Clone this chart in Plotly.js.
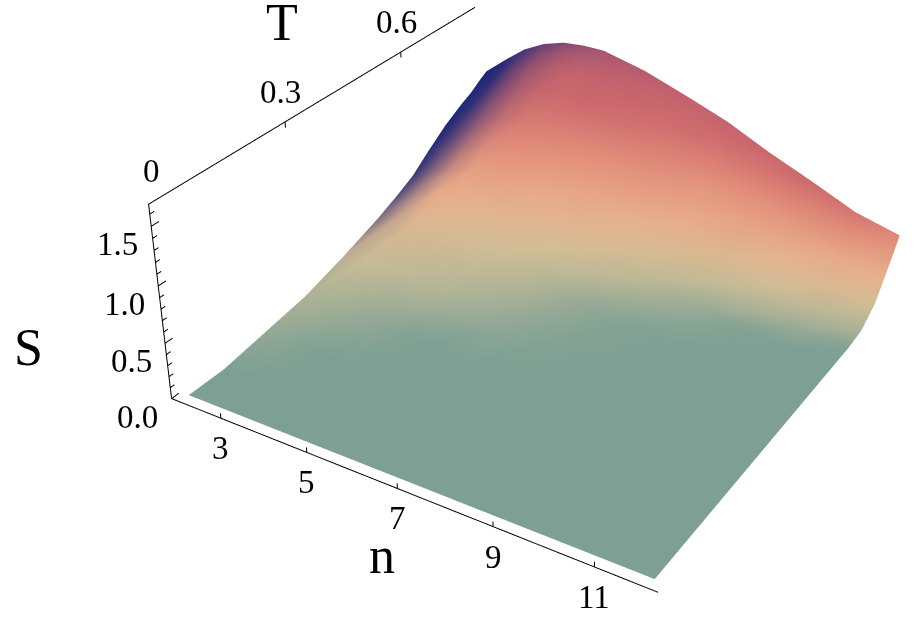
<!DOCTYPE html><html><head><meta charset="utf-8"><script src="https://cdn.plot.ly/plotly-3.0.1.min.js"></script>
<style>html,body{margin:0;padding:0;background:#fff;overflow:hidden;width:919px;height:621px}#p{position:absolute;left:0;top:-491px;width:1106px;height:1495px}</style></head><body><div id="p"></div>
<script>
// values
const nGrid=[2,2.5,3,3.5,4,4.5,5,6,7,8,9,10,11,12];
const tGrid=[.02,.1,.2,.3,.4,.5,.55,.6,.65,.7,.75,.78,.81,.83];
const sGrid=[
[0,0,0,0,0,0,0,0,0,0,0,0,0,0],
[0,0,0,0,0,0,0,0,0,0,0,0,0,0],
[.06,.06,.05,.04,.03,.02,.01,0,0,0,0,0,0,0],
[.12,.13,.13,.12,.11,.09,.07,.03,.01,0,0,0,0,0],
[.23,.26,.27,.27,.26,.23,.20,.12,.06,.02,.01,0,0,0],
[.36,.42,.46,.48,.48,.45,.41,.30,.18,.10,.04,.01,0,0],
[.44,.52,.58,.61,.62,.59,.55,.43,.29,.17,.08,.03,0,0],
[.53,.63,.71,.75,.76,.74,.70,.57,.42,.26,.13,.05,.01,0],
[.67,.77,.84,.89,.91,.90,.87,.73,.58,.38,.22,.09,.03,0],
[.80,.91,.99,1.05,1.08,1.07,1.04,.92,.75,.54,.34,.18,.07,.02],
[.90,1.03,1.15,1.23,1.27,1.27,1.24,1.12,.97,.77,.55,.35,.19,.14],
[.95,1.10,1.24,1.33,1.38,1.38,1.37,1.27,1.12,.93,.72,.53,.35,.30],
[1.02,1.17,1.32,1.42,1.48,1.49,1.48,1.39,1.25,1.09,.89,.72,.53,.46],
[1.06,1.22,1.37,1.47,1.53,1.55,1.55,1.46,1.33,1.19,1.01,.85,.68,.58]];
// colour position of each grid point along the green-tan-peach-rose ramp
const cGrid=[
[0,0,0,0,0,0,0,0,0,0,0,0,0,0],
[0,0,0,0,0,0,0,0,0,0,0,0,0,0],
[.11,.07,.02,0,0,0,0,0,0,0,0,0,0,0],
[.24,.21,.17,.12,.08,.02,0,0,0,0,0,0,0,0],
[.38,.36,.34,.32,.30,.27,.21,.10,.02,0,0,0,0,0],
[.49,.48,.48,.46,.45,.42,.39,.30,.13,.03,0,0,0,0],
[.54,.55,.55,.55,.54,.51,.48,.41,.31,.16,.05,0,0,0],
[.60,.61,.63,.62,.62,.60,.57,.51,.43,.32,.15,.03,0,0],
[.67,.69,.70,.70,.70,.68,.66,.60,.54,.44,.34,.23,.12,.01],
[.74,.76,.78,.79,.79,.77,.75,.70,.64,.56,.47,.39,.30,.23],
[.81,.83,.86,.88,.88,.87,.86,.81,.75,.67,.61,.53,.46,.42],
[.84,.88,.91,.93,.94,.93,.93,.88,.82,.76,.70,.64,.57,.53],
[.88,.92,.96,.98,.99,1,.99,.96,.90,.84,.80,.76,.70,.65],
[.91,.95,.99,1,1,1,1,1,.96,.92,.88,.85,.80,.73]];
// share of navy mixed into each grid point
const blueGrid=[
[0,0,0,0,0,0,0,0,0,0,0,0,0,0],[0,0,0,0,0,0,0,0,0,0,0,0,0,0],[0,0,0,0,0,0,0,0,0,0,0,0,0,0],[0,0,0,0,0,0,0,0,0,0,0,0,0,0],
[.1,0,0,0,0,0,0,0,0,0,0,0,0,0],
[.5,.12,0,0,0,0,0,0,0,0,0,0,0,0],
[.7,.3,.03,0,0,0,0,0,0,0,0,0,0,0],
[.85,.5,.15,0,0,0,0,0,0,0,0,0,0,0],
[.95,.65,.28,.05,0,0,0,0,0,0,0,0,0,0],
[1,.78,.4,.12,0,0,0,0,0,0,0,0,0,0],
[1,.87,.5,.2,.05,0,0,0,0,0,0,0,0,0],
[1,.9,.58,.28,.1,0,0,0,0,0,0,0,0,0],
[1,.92,.68,.42,.22,.1,.05,0,0,0,0,0,0,0],
[1,.95,.72,.55,.4,.25,.15,.05,0,0,0,0,0,0]];
const nTicks=[3,5,7,9,11],tTicks=[0,.3,.6],sMajor=[0,.5,1,1.5],sMinor=[.1,.2,.3,.4,.6,.7,.8,.9,1.1,1.2,1.3,1.4,1.6];
const stops=[[0,126,160,148],[.25,175,180,150],[.4,208,190,150],[.55,232,175,140],[.7,226,142,122],[.85,205,105,108],[1,190,95,110]];
const navy=[30,40,120];
// axis box and camera
const N0=1.8,N1=12.2,T1=.82,S1=1.68;
const base={x:1,y:1.016,z:.403},EYE={x:1.459,y:-2.466,z:1.696},UP={x:-.270,y:.432,z:.861};
const rng={x:[1.7,12.3],y:[-.02,.84],z:[-.02,1.72]},oldR={x:[N0,N1],y:[0,T1],z:[0,S1]};
const aspect={},eye={},center={};
for(const k of ['x','y','z']){const os=oldR[k][1]-oldR[k][0],ns=rng[k][1]-rng[k][0];aspect[k]=base[k]*ns/os;const sh=((rng[k][0]+rng[k][1])-(oldR[k][0]+oldR[k][1]))/2/os*base[k];eye[k]=EYE[k]-sh;center[k]=-sh;}
function cmap(c){for(let i=1;i<stops.length;i++)if(c<=stops[i][0]){const a=stops[i-1],b=stops[i],t=(c-a[0])/(b[0]-a[0]);return [1,2,3].map(k=>a[k]+(b[k]-a[k])*t);}return stops[stops.length-1].slice(1);}
const X=[],Y=[],Z=[],VC=[],I=[],J=[],K=[];const nn=nGrid.length;
tGrid.forEach((T,i)=>nGrid.forEach((n,j)=>{X.push(n);Y.push(T);Z.push(sGrid[i][j]);const c=cmap(cGrid[i][j]),b=blueGrid[i][j];VC.push('rgb('+c.map((v,k)=>Math.round(v+(navy[k]-v)*b)).join(',')+')');}));
for(let i=0;i<tGrid.length-1;i++)for(let j=0;j<nn-1;j++){const q=i*nn+j;I.push(q,q);J.push(q+1,q+nn+1);K.push(q+nn+1,q+nn);}
const ax={x:[N0,N1,null,N0,N0,null,N0,N0],y:[0,0,null,0,0,null,0,T1],z:[0,0,null,0,S1,null,S1,S1]};
nTicks.forEach(n=>{ax.x.push(null,n,n);ax.y.push(null,0,0);ax.z.push(null,0,.045);});
tTicks.forEach(t=>{ax.x.push(null,N0,N0);ax.y.push(null,t,t);ax.z.push(null,S1,S1-.05);});
sMajor.forEach(s=>{ax.x.push(null,N0,N0);ax.y.push(null,0,.016);ax.z.push(null,s,s);});
sMinor.forEach(s=>{ax.x.push(null,N0,N0);ax.y.push(null,0,.009);ax.z.push(null,s,s);});
const fnt=s=>({family:'Liberation Serif',size:s,color:'#000'});
const lab=(x,y,z,text,sx,sy,size)=>({x,y,z,text,xshift:sx,yshift:sy,showarrow:false,xanchor:'center',yanchor:'middle',font:fnt(size)});
const anns=[...nTicks.map(n=>lab(n,0,0,String(n),0,-30,33)),...tTicks.map((t,i)=>lab(N0,t,S1,String(t),[3,-5,-4][i],[33,30,30][i],33)),...sMajor.map(s=>lab(N0,0,s,s.toFixed(1),-34,-18,33)),
lab(7,0,0,'n',-15,-67,52),lab(N0,.3,S1,'T',-3,99,52),lab(N0,0,.5,'S',-137,-4,52)];
const hid={visible:false,showspikes:false};
Plotly.newPlot('p',[{type:'mesh3d',x:X,y:Y,z:Z,i:I,j:J,k:K,vertexcolor:VC,flatshading:false,lighting:{ambient:1,diffuse:0,specular:0,roughness:1,fresnel:0},hoverinfo:'skip'},
{type:'scatter3d',mode:'lines',x:ax.x,y:ax.y,z:ax.z,line:{color:'#000',width:2},hoverinfo:'skip',connectgaps:false}],
{margin:{l:0,r:0,t:0,b:0},paper_bgcolor:'#fff',showlegend:false,scene:{domain:{x:[0,1],y:[0,1]},aspectmode:'manual',aspectratio:aspect,
camera:{eye,center,up:UP,projection:{type:'perspective'}},
xaxis:{...hid,range:rng.x},yaxis:{...hid,range:rng.y},zaxis:{...hid,range:rng.z},annotations:anns}},{displayModeBar:false});
</script></body></html>
